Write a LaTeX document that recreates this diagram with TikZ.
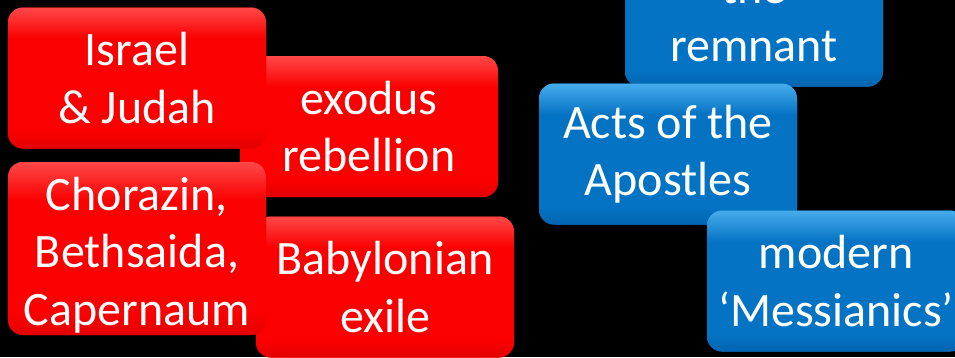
\documentclass[tikz,border=0pt]{standalone}
\usepackage{fontspec}
\setmainfont{Carlito}
\definecolor{redtop}{RGB}{255,72,72}
\definecolor{redmain}{RGB}{250,0,0}
\definecolor{redbot}{RGB}{226,0,0}
\definecolor{bluetop}{RGB}{70,172,236}
\definecolor{bluemain}{RGB}{5,115,195}
\definecolor{bluebot}{RGB}{0,100,176}
\pgfdeclareverticalshading{redgloss}{100bp}{color(0bp)=(redbot); color(25bp)=(redbot); color(31bp)=(redmain); color(64bp)=(redmain); color(75bp)=(redtop); color(100bp)=(redtop)}
\pgfdeclareverticalshading{bluegloss}{100bp}{color(0bp)=(bluebot); color(25bp)=(bluebot); color(31bp)=(bluemain); color(64bp)=(bluemain); color(75bp)=(bluetop); color(100bp)=(bluetop)}
\tikzset{
  box/.style={rounded corners=15pt, minimum width=258pt, minimum height=141pt,
    inner sep=0pt, align=center, text=white,
    font=\fontsize{48}{57.5}\selectfont},
  redbox/.style={box, fill=redmain, shading=redgloss},
  bluebox/.style={box, fill=bluemain, shading=bluegloss},
}
\begin{document}
\begin{tikzpicture}[x=1pt,y=-1pt]
\fill[black] (0,0) rectangle (955,357);
\useasboundingbox (0,0) rectangle (955,357);
\clip (0,0) rectangle (955,357);
% red boxes
\node[redbox] (exodus) at (369,126.5) {exodus\\rebellion};
\node[redbox] (babylon) at (385,287) {Babylonian\\exile};
\node[redbox] (israel) at (137,78) {Israel\\\& Judah};
\node[redbox, minimum height=173pt] (chorazin) at (137,248.5) {\rule{0pt}{46pt}Chorazin,\\Bethsaida,\\Capernaum};
% blue boxes
\node[bluebox] (remnant) at (754,16) {the\\remnant};
\node[bluebox] (acts) at (668,154) {Acts of the\\Apostles};
\node[bluebox] (messianics) at (836,281) {modern\\‘Messianics’};
\end{tikzpicture}
\end{document}
